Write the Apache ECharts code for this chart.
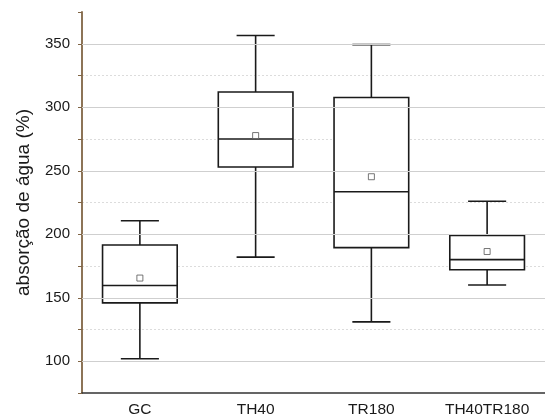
<!DOCTYPE html>
<html>
<head>
<meta charset="utf-8">
<script src="https://cdn.jsdelivr.net/npm/echarts@6/dist/echarts.min.js"></script>
<style>
  html, body { margin: 0; padding: 0; background: #fff; }
  #chart { width: 545px; height: 420px; }
</style>
</head>
<body>
<div id="chart"></div>
<script>
// values
const categories = ['GC', 'TH40', 'TR180', 'TH40TR180'];
const whiskerLow = [102, 182, 131, 160];
const q1 = [146, 253, 189.5, 172];
const median = [159.7, 275, 233.5, 180];
const q3 = [191.5, 312, 307.7, 199];
const whiskerHigh = [210.6, 356.5, 349.3, 226];
const mean = [165.5, 277.7, 245.3, 186.4];
const majorTicks = [100, 150, 200, 250, 300, 350];

const boxRows = categories.map((c, i) => [i, whiskerLow[i], q1[i], median[i], q3[i], whiskerHigh[i]]);
const meanRows = categories.map((c, i) => [i, mean[i]]);

const stroke = '#1a1a1a';
const lw = 1.6;

const chart = echarts.init(document.getElementById('chart'));

chart.setOption({
  animation: false,
  grid: { left: 82, top: 12, bottom: 27, right: -9, containLabel: false },
  xAxis: {
    type: 'category',
    data: categories,
    boundaryGap: true,
    axisLine: { lineStyle: { color: '#333', width: 1.6 } },
    axisTick: { alignWithLabel: true, length: 6, lineStyle: { color: '#333', width: 1.5 } },
    axisLabel: { color: '#1a1a1a', fontSize: 15.5, fontFamily: 'Liberation Sans', margin: 9 },
    splitLine: { show: false }
  },
  yAxis: {
    type: 'value',
    min: 75,
    max: 375,
    interval: 25,
    name: 'absorção de água (%)',
    nameLocation: 'middle',
    nameGap: 49,
    nameTextStyle: { color: '#1a1a1a', fontSize: 19, fontFamily: 'Liberation Sans' },
    axisLine: { show: true, lineStyle: { color: '#806545', width: 1.8 } },
    axisTick: { show: true, inside: false, length: 4, lineStyle: { color: '#806545', width: 1 } },
    axisLabel: {
      color: '#1a1a1a',
      fontSize: 15,
      fontFamily: 'Liberation Sans',
      margin: 12,
      formatter: v => (v % 50 === 0 ? String(v) : '')
    },
    splitLine: {
      show: true,
      showMinLine: false,
      showMaxLine: false,
      lineStyle: { color: '#dcdcdc', type: [2, 2], width: 1 }
    }
  },
  series: [
    {
      // solid major gridlines
      type: 'line',
      data: [],
      z: 1,
      silent: true,
      markLine: {
        silent: true,
        symbol: 'none',
        label: { show: false },
        lineStyle: { color: '#cfcfcf', type: 'solid', width: 1 },
        data: majorTicks.map(v => ({ yAxis: v }))
      }
    },
    {
      type: 'custom',
      z: 2,
      data: boxRows,
      encode: { x: 0, y: [1, 2, 3, 4, 5] },
      renderItem: (params, api) => {
        const i = api.value(0);
        const pLo = api.coord([i, api.value(1)]);
        const pQ1 = api.coord([i, api.value(2)]);
        const pMed = api.coord([i, api.value(3)]);
        const pQ3 = api.coord([i, api.value(4)]);
        const pHi = api.coord([i, api.value(5)]);
        const band = api.size([1, 0])[0];
        const bw = band * 0.645;
        const cw = bw * 0.51;
        const cx = pMed[0];
        const st = { stroke: stroke, lineWidth: lw, fill: null };
        return {
          type: 'group',
          children: [
            { type: 'line', shape: { x1: cx, y1: pHi[1], x2: cx, y2: pQ3[1] }, style: st },
            { type: 'line', shape: { x1: cx, y1: pQ1[1], x2: cx, y2: pLo[1] }, style: st },
            { type: 'line', shape: { x1: cx - cw / 2, y1: pHi[1], x2: cx + cw / 2, y2: pHi[1] }, style: st },
            { type: 'line', shape: { x1: cx - cw / 2, y1: pLo[1], x2: cx + cw / 2, y2: pLo[1] }, style: st },
            { type: 'rect', shape: { x: cx - bw / 2, y: pQ3[1], width: bw, height: pQ1[1] - pQ3[1] },
              style: { stroke: stroke, lineWidth: lw, fill: '#fff' } },
            { type: 'line', shape: { x1: cx - bw / 2, y1: pMed[1], x2: cx + bw / 2, y2: pMed[1] }, style: st }
          ]
        };
      }
    },
    {
      type: 'scatter',
      z: 3,
      data: meanRows,
      symbol: 'rect',
      symbolSize: 6,
      itemStyle: { color: '#fff', borderColor: '#555', borderWidth: 1 }
    }
  ]
});
</script>
</body>
</html>
